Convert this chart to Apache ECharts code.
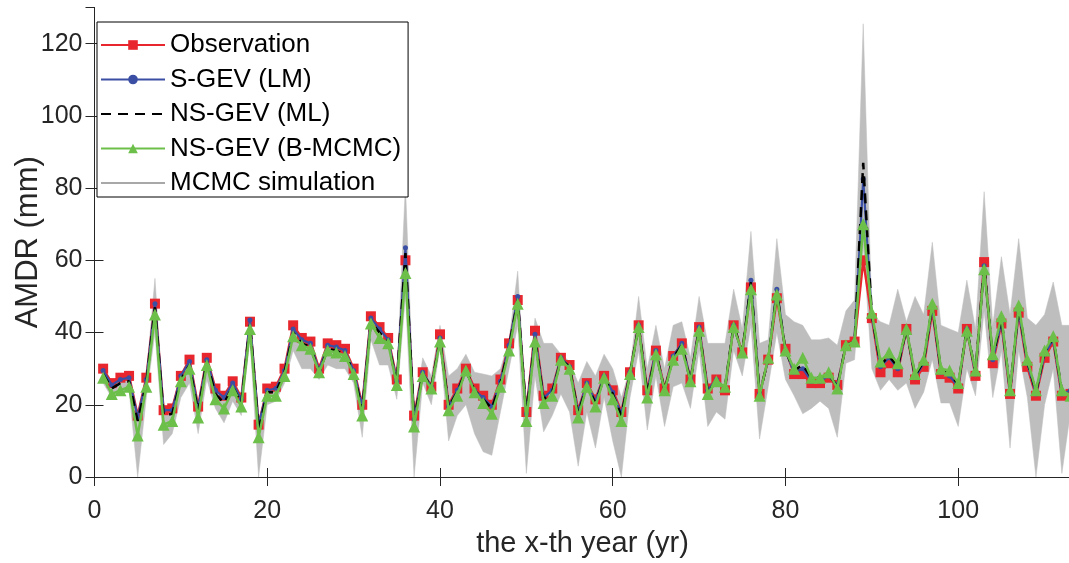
<!DOCTYPE html>
<html>
<head>
<meta charset="utf-8">
<script src="https://cdn.jsdelivr.net/npm/echarts@6/dist/echarts.min.js"></script>
<style>
html,body{margin:0;padding:0;background:#fff;}
#c{width:1069px;height:563px;}
</style>
</head>
<body>
<div id="c"></div>
<script>
// Year index 1..113
var firstYear = 1, lastYear = 113;
var xTicks = [0, 20, 40, 60, 80, 100];
var yTicks = [0, 20, 40, 60, 80, 100, 120];

var observation = [30,26,27.5,28,17,27.5,48,18.5,19,28,32.5,19.5,33,24.5,22.5,26.5,22,43,14.5,24.5,
25,30,42,38.5,37.5,30,37,36.5,35.5,30,20,44.5,41.5,38.5,27,60,17,29,25,39.5,
20,24.5,30,24.5,22.5,20,27,37,49,18,40.5,22.5,24.5,33,31,18.5,26,21.5,28,24,
18,29,42,24,35,24.5,33.5,37,27,41.5,24.5,27,24,42,34.5,52.5,23,32.5,49.5,35.5,
28.5,28.5,26,26,27.5,25.5,36.5,37.5,60,44,29,31.5,29,41,27,30.5,46,28.5,27.5,24.5,
41,28,59.5,31.5,42.5,23,45.5,30.5,22.5,33,37.5,22.5,23];

var sgevLM = [29.5,25.5,27,27.5,16.5,27,48,18.5,18.5,28,32,19,32.5,24,22,26,21.5,43.5,14.5,24,
24.5,29.5,41,38,37,29.5,36.5,36,35,29.5,19.5,44,41,38,26.5,63.5,16,29,25,38.5,
19.5,24,29.5,24,22,19.5,26.5,36.5,50,17.5,39.5,22,24,33,30.5,18,26,21,28,23.5,
17.5,29,42,23.5,35,24,33.5,37,27,41.5,24,27,24.5,42,34,54.5,23,32.5,52,35,
29,30,26.5,26.5,28,25.5,36.5,37.5,82.5,44.5,30.5,33,30,41,27.5,31.5,47,29,28,25,
41,28.5,58.5,32.5,43,23.5,46,31.5,23,34,38,23,24];

var nsgevML = [28.5,24.5,26,26.5,15.5,26,47,17,17.5,27,31,18,32,23,20.5,25,20.5,42.5,13,23.5,
23.5,29,40,37,36,29,35.5,35,34,29,18.5,43,40,37.5,26,62,15.5,28.5,25,38,
19.5,23.5,29.5,24,21.5,19,26,36,49,17,38.5,21.5,23.5,32.5,30.5,17.5,25.5,20.5,27.5,23,
17,28.5,42,23,34.5,24,33,36.5,26.5,41,23.5,26.5,25,42,34.5,54,23,32.5,51.5,35,
29.5,31,27.5,27.5,28.5,25,36.5,37.5,87,45,31,33.5,30.5,41,28,32,47.5,29.5,29,25.5,
41,29,59,33,44,24,47,32,23.5,34.5,38.5,24,25.5];

var nsgevBMCMC = [27.5,23,24,25,11.5,25,45,14.5,15.5,26.5,30,16.5,31,21.5,19,24,19.5,41,11,22.5,
22.5,28,39,36.5,35.5,29,35,34.5,33.5,28.5,17,42.5,38.5,37,25.5,56.5,14,28,24.5,37.5,
18.5,22.5,29.5,23.5,20.5,17.5,25,35,48,15.5,37.5,20.5,22.5,32.5,30,16.5,25,19.5,27.5,21.5,
15.5,28.5,41.5,22,34,24,32.5,35.5,26.5,40.5,23,26.5,25,41.5,34.5,52,22.5,33,50.5,35,
30,33,27.5,27.5,29,24.5,36.5,37.5,70,45.5,32,34.5,31.5,41,28.5,32.5,48,30,29.5,26,
40.5,29.5,57.5,34,44.5,24,47.5,32.5,24,35,39,24,22.5];

var mcmcUpper = [30,26.5,27.5,28.5,17,28,55,19,19.5,28,32.5,19.5,33,24.5,22.5,26.5,22,44,14.5,25,
25,30,42,38.5,37.5,30,37,36.5,35.5,30,20,45,42,39,27.5,81,17,33,28,42,
28,30,34,29,28.5,28,30,38,57,18.5,44,37,37,34,32,26,32,28,34,30,
22,30,50,30,42,30,42,43,33,50,37,37,37,52,41,68,37,38,66,45,
43,42,38,38,38.5,36.5,46,49,125.5,45,43,42,52,43,50,45,65,42,41,40,
54.5,41,79,42,61,45,66,44,42,45,54,42,42];

var mcmcLower = [26,22,23,24,0,22,40,9,12,22,26,12,27,19,15,21,17,38,0,20,
21,26,35,30,30,27,31,30,30,26,11,38,31,31,21.5,50,0,26,20,36,
10,17,20,12,7,6,18,30,42,1,28,12.5,17,23,18,3,18,8,22,10,
0,22,35,13,28,14,25,26,19,35,14,18,16,35,28,42,10.5,25,40,27,
22.5,17.5,19,21,19,11,31.5,32.5,64,30,24,27,24,26,19,23.5,32.5,20.5,20.5,14,
30,22.5,46,22,35,8,35,22,0,20,30,1,18];

function pairs(vals) {
  var out = [];
  for (var i = 0; i < vals.length; i++) out.push([firstYear + i, vals[i]]);
  return out;
}
var bandData = mcmcLower.map(function (lo, i) { return [firstYear + i, lo, mcmcUpper[i]]; });

var FONT = "'Liberation Sans', Arial, Helvetica, sans-serif";
var RED = '#e8262d', BLUE = '#3a4fa3', GREEN = '#6cc04a', GRAY = '#bebebe';

function tickFmt(list) {
  return function (v) { return list.indexOf(v) >= 0 ? String(v) : ''; };
}

function renderBand(params, api) {
  if (params.dataIndex !== 0) return null;
  var n = bandData.length;
  var pts = [];
  for (var i = 0; i < n; i++) pts.push(api.coord([api.value(0, i), api.value(2, i)]));
  for (var j = n - 1; j >= 0; j--) pts.push(api.coord([api.value(0, j), api.value(1, j)]));
  return {
    type: 'polygon',
    shape: {points: pts},
    style: {fill: GRAY, stroke: GRAY, lineWidth: 0.5}
  };
}

var chart = echarts.init(document.getElementById('c'), null, {renderer: 'canvas'});
chart.setOption({
  animation: false,
  backgroundColor: '#fff',
  grid: {left: 94.5, right: -1.5, top: 7.5, bottom: 86, containLabel: false, outerBoundsMode: 'none'},
  legend: {
    orient: 'vertical',
    left: 97, top: 22,
    backgroundColor: '#fff',
    borderColor: '#000', borderWidth: 1, borderRadius: 0,
    padding: [10, 7, 1, 3],
    itemWidth: 64, itemHeight: 12, itemGap: 8.5,
    textStyle: {fontSize: 26, lineHeight: 26, color: '#000', fontFamily: FONT},
    data: [
      'Observation',
      'S-GEV (LM)',
      {name: 'NS-GEV (ML)', itemStyle: {color: 'rgba(0,0,0,0)', borderWidth: 0}},
      'NS-GEV (B-MCMC)',
      {name: 'MCMC simulation', itemStyle: {color: 'rgba(0,0,0,0)', borderWidth: 0}}
    ]
  },
  xAxis: [{
    type: 'value', min: 0, max: lastYear, interval: 20, position: 'bottom',
    name: 'the x-th year (yr)', nameLocation: 'middle', nameGap: 52, nameMoveOverlap: false,
    nameTextStyle: {fontSize: 29, color: '#262626', fontFamily: FONT},
    axisLine: {show: true, lineStyle: {color: '#262626', width: 1}},
    axisTick: {show: true, inside: true, length: 9, lineStyle: {color: '#262626'}},
    axisLabel: {fontSize: 25, color: '#262626', fontFamily: FONT, margin: 22,
      showMaxLabel: false, formatter: tickFmt(xTicks)},
    splitLine: {show: false}
  }, {
    type: 'value', min: 0, max: lastYear, interval: 20, position: 'top',
    axisLine: {show: true, lineStyle: {color: '#262626', width: 1}},
    axisTick: {show: true, inside: true, length: 9, lineStyle: {color: '#262626'}},
    axisLabel: {show: false},
    splitLine: {show: false}
  }],
  yAxis: [{
    type: 'value', min: 0, max: 130, interval: 20, position: 'left',
    name: 'AMDR (mm)', nameLocation: 'middle', nameGap: 50.5, nameRotate: 90, nameMoveOverlap: false,
    nameTextStyle: {fontSize: 31, color: '#262626', fontFamily: FONT},
    axisLine: {show: true, lineStyle: {color: '#262626', width: 1}},
    axisTick: {show: true, inside: true, length: 9, lineStyle: {color: '#262626'}},
    axisLabel: {fontSize: 25, color: '#262626', fontFamily: FONT, margin: 12,
      showMaxLabel: false, formatter: tickFmt(yTicks)},
    splitLine: {show: false}
  }, {
    type: 'value', min: 0, max: 130, interval: 20, position: 'right',
    axisLine: {show: true, lineStyle: {color: '#262626', width: 1}},
    axisTick: {show: true, inside: true, length: 9, lineStyle: {color: '#262626'}},
    axisLabel: {show: false},
    splitLine: {show: false}
  }],
  series: [
    {
      name: '_band', type: 'custom', data: bandData,
      encode: {x: 0, y: [1, 2]},
      renderItem: renderBand, silent: true, z: 1
    },
    {
      name: 'MCMC simulation', type: 'line', data: [],
      symbol: 'none', lineStyle: {width: 1, color: '#a8a8a8'}, itemStyle: {color: '#a8a8a8'}
    },
    {
      name: 'Observation', type: 'line', data: pairs(observation),
      symbol: 'rect', symbolSize: 10, showSymbol: true,
      lineStyle: {color: RED, width: 2.5}, itemStyle: {color: RED}, z: 2
    },
    {
      name: 'S-GEV (LM)', type: 'line', data: pairs(sgevLM),
      symbol: 'circle', symbolSize: 5, showSymbol: true,
      lineStyle: {color: BLUE, width: 2.2}, itemStyle: {color: BLUE}, z: 3
    },
    {
      name: 'NS-GEV (ML)', type: 'line', data: pairs(nsgevML),
      symbol: 'none',
      lineStyle: {color: '#000', width: 2.5, type: [10, 7]}, itemStyle: {color: '#000'}, z: 4
    },
    {
      name: 'NS-GEV (B-MCMC)', type: 'line', data: pairs(nsgevBMCMC),
      symbol: 'triangle', symbolSize: 12, showSymbol: true,
      lineStyle: {color: GREEN, width: 2.5}, itemStyle: {color: GREEN}, z: 5
    }
  ]
});
</script>
</body>
</html>
